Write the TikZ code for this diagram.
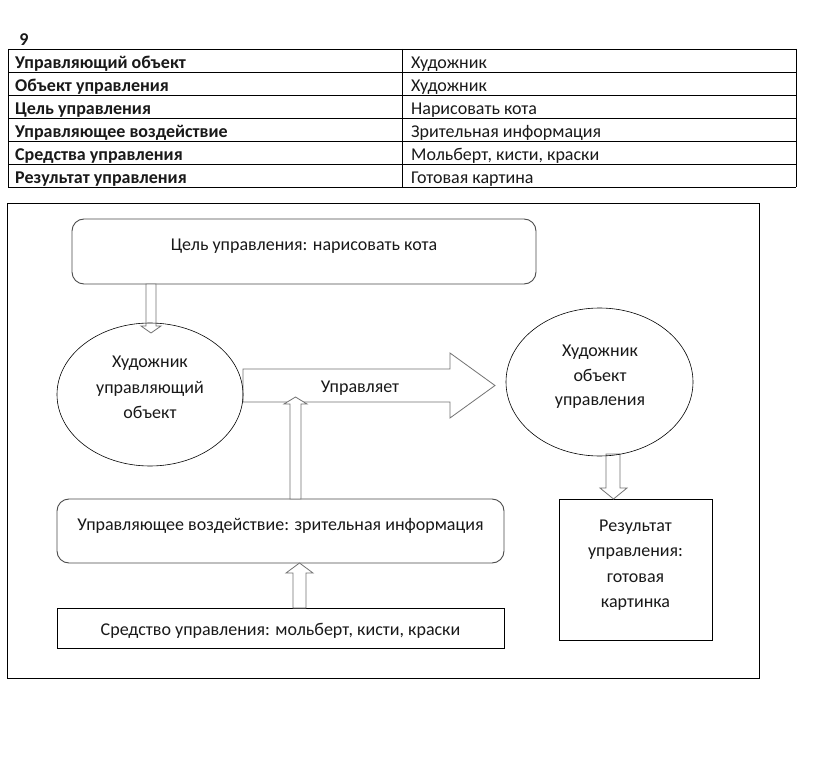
\documentclass[tikz,border=0pt]{standalone}
\usepackage{fontspec}
\setmainfont{Carlito}
\usetikzlibrary{shapes.geometric}
\tikzset{
  txt/.style={font=\fontsize{18}{21}\selectfont, inner sep=0pt, text=black!90, anchor=base},
  tabl/.style={txt, anchor=base west, font=\fontsize{18}{21}\selectfont\bfseries},
  tabr/.style={txt, anchor=base west},
  rbox/.style={draw=black!70, line width=0.9pt, rounded corners=12pt, inner sep=0pt, outer sep=0pt},
  sbox/.style={draw=black, line width=1pt, inner sep=0pt, outer sep=0pt},
  oval/.style={ellipse, draw=black, line width=0.6pt, inner sep=0pt, outer sep=0pt},
  barrow/.style={draw=black!55, fill=white, line width=0.8pt, line join=miter},
  grid/.style={draw=black, line width=0.9pt}
}
\begin{document}
\begin{tikzpicture}[x=1pt,y=-1pt]
\useasboundingbox (0,0) rectangle (825,770);
\fill[white] (0,0) rectangle (825,770);

% ---- table ----
\node[txt, font=\fontsize{18}{21}\selectfont\bfseries] (num) at (24,46) {9};
\foreach \yy in {49,72,95,118,141,164,187} \draw[grid] (8,\yy) -- (796,\yy);
\draw[grid] (8,49) -- (8,187);
\draw[grid] (402,49) -- (402,187);
\draw[grid] (796,49) -- (796,187);
\node[tabl] (l1) at (15,68.5) {Управляющий объект};
\node[tabl] (l2) at (15,91.5) {Объект управления};
\node[tabl] (l3) at (15,114.5) {Цель управления};
\node[tabl] (l4) at (15,137.5) {Управляющее воздействие};
\node[tabl] (l5) at (15,160.5) {Средства управления};
\node[tabl] (l6) at (15,183.5) {Результат управления};
\node[tabr] (r1) at (411,68.5) {Художник};
\node[tabr] (r2) at (411,91.5) {Художник};
\node[tabr] (r3) at (411,114.5) {Нарисовать кота};
\node[tabr] (r4) at (411,137.5) {Зрительная информация};
\node[tabr] (r5) at (411,160.5) {Мольберт, кисти, краски};
\node[tabr] (r6) at (411,183.5) {Готовая картина};

% ---- frame ----
\draw[sbox] (7,204) rectangle (759,678);

% ---- boxes ----
\node[rbox, minimum width=464pt, minimum height=65pt] (goal) at (304,251.5) {};
\node[txt] (goaltxt) at (304,251) {Цель управления: нарисовать кота};

\node[rbox, minimum width=447pt, minimum height=64pt] (act) at (280.5,531) {};
\node[txt] (acttxt) at (280.5,530.5) {Управляющее воздействие: зрительная информация};

\node[sbox, minimum width=447pt, minimum height=40pt] (means) at (280.5,628) {};
\node[txt] (meanstxt) at (280.5,635.5) {Средство управления: мольберт, кисти, краски};

\node[sbox, minimum width=153pt, minimum height=141pt] (res) at (635.5,569.5) {};
\node[txt] (res1) at (635.5,531) {Результат};
\node[txt] (res2) at (635.5,556.5) {управления:};
\node[txt] (res3) at (635.5,582) {готовая};
\node[txt] (res4) at (635.5,607.5) {картинка};

% ---- block arrows ----
% horizontal "Управляет"
\draw[barrow] (243,369) -- (450,369) -- (450,353) -- (495,385.5) -- (450,418) -- (450,402) -- (243,402) -- cycle;
\node[txt] (ctrl) at (360,392) {Управляет};
% goal -> manager
\draw[barrow] (146,284) -- (156,284) -- (156,326) -- (161,326) -- (151,333) -- (141,326) -- (146,326) -- cycle;
% object -> result
\draw[barrow] (606,454) -- (620,454) -- (620,488) -- (627,488) -- (613.5,499) -- (600,488) -- (606,488) -- cycle;
% means -> action
\draw[barrow] (293,608) -- (293,573) -- (286,573) -- (299.5,563) -- (313,573) -- (306,573) -- (306,608) -- cycle;
% action -> control
\draw[barrow] (290,499) -- (290,404) -- (284,404) -- (295.5,397) -- (307,404) -- (301,404) -- (301,499) -- cycle;

% ---- ellipses ----
\node[oval, minimum width=186pt, minimum height=143pt] (mgr) at (150,394.5) {};
\node[txt] (mgr1) at (150,367.5) {Художник};
\node[txt] (mgr2) at (150,393) {управляющий};
\node[txt] (mgr3) at (150,418.5) {объект};
\node[oval, minimum width=187pt, minimum height=148pt] (obj) at (599.5,382) {};
\node[txt] (obj1) at (600,356.5) {Художник};
\node[txt] (obj2) at (600,381) {объект};
\node[txt] (obj3) at (600,405.5) {управления};
\end{tikzpicture}
\end{document}
